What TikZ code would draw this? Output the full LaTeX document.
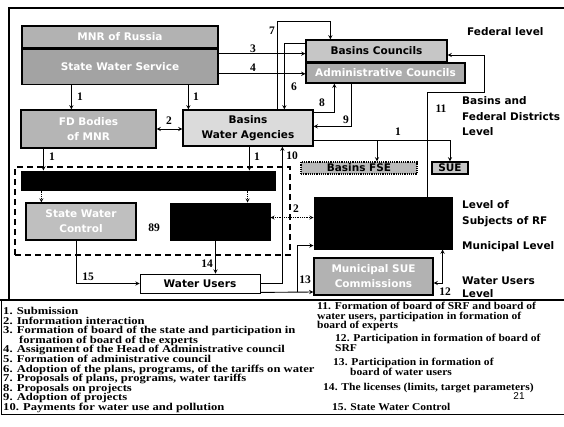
\documentclass[tikz,border=0pt]{standalone}
\usepackage{fontspec}
\setmainfont{Liberation Serif}
\newfontfamily\boxfont{DejaVu Sans}
\newfontfamily\legendfont[FakeStretch=1.2]{Liberation Serif}
\newfontfamily\legendfontb[FakeStretch=1.1]{Liberation Serif}
\newfontfamily\pagefont{Liberation Sans}
\usepackage{tikz}
\usetikzlibrary{arrows,positioning}
\lineskiplimit=-20pt

\begin{document}
\begin{tikzpicture}[
    x=1pt, y=-1pt,
    box/.style={rectangle, draw, line width=1.2pt, align=center, inner sep=1pt, font=\boxfont\bfseries\fontsize{10.5}{15}\selectfont},
    darkbox/.style={box, fill=gray!65, text=white},
    lightbox/.style={box, fill=gray!35, text=black},
    blackbox/.style={rectangle, draw, line width=1pt, fill=black},
    arrow/.style={line width=0.9pt,->,>=stealth},
    darrow/.style={line width=0.9pt,<->,>=stealth},
    dotarrow/.style={line width=0.8pt,densely dotted,->,>=stealth},
    num/.style={font=\bfseries\fontsize{11.5}{11.5}\selectfont, inner sep=0pt},
    lvl/.style={anchor=west, align=left, inner sep=0pt, font=\boxfont\bfseries\fontsize{10.5}{15.5}\selectfont},
    legend/.style={anchor=north west, align=left, inner sep=0pt, font=\legendfont\bfseries\fontsize{10.5}{9.6}\selectfont},
    legend2/.style={legend, font=\legendfontb\bfseries\fontsize{10.5}{9.5}\selectfont}
]
\useasboundingbox (0,0) rectangle (564,426);

% frame
\draw[line width=2pt] (564,8) -- (9,8) -- (9,300);
\draw[line width=2pt] (0,300) -- (564,300);
\draw[line width=1pt] (1,300) -- (1,414) -- (564,414);

% federal level
\node[darkbox, fill=gray!60, minimum width=196, minimum height=22] (mnr) at (120,37) {MNR of Russia};
\node[darkbox, fill=gray!72, minimum width=196, minimum height=35, below=0pt of mnr] (state_service) {State Water Service};
\node[lightbox, fill=gray!45, minimum width=141, minimum height=22] (basin_councils) at (376.5,51) {Basins Councils};
\node[darkbox, minimum width=159, minimum height=20] (admin_councils) at (385.5,73) {Administrative Councils};

% basins and federal districts level
\node[darkbox, fill=gray!58, minimum width=135, minimum height=38] (fd_bodies) at (88.5,129) {FD Bodies\\of MNR};
\node[lightbox, fill=gray!28, minimum width=130, minimum height=36] (basin_agencies) at (248,128) {Basins\\Water Agencies};
\node[lightbox, fill=gray!55, densely dotted, minimum width=116, minimum height=12] (basin_fse) at (359,168) {Basins FSE};
\node[lightbox, fill=gray!45, minimum width=36, minimum height=12] (sue) at (450,168) {SUE};

% level of subjects of RF
\node[rectangle, draw, line width=1.6pt, dash pattern=on 6pt off 4pt, minimum width=275, minimum height=88] (subj_level) at (152.5,211) {};
\node[blackbox, minimum width=254, minimum height=19] (subj_bar) at (148,180.5) {};
\node[darkbox, fill=gray!50, minimum width=110, minimum height=37] (state_control) at (81,221.5) {State Water\\Control};
\node[blackbox, minimum width=100, minimum height=37] (licensing) at (220,221.5) {};
\node[blackbox, minimum width=138, minimum height=52] (subj_rf) at (383,223) {};

% municipal and water users level
\node[darkbox, fill=gray!60, minimum width=119, minimum height=37] (municipal) at (373.5,276.5) {Municipal SUE\\Commissions};
\node[box, fill=white, line width=0.8pt, minimum width=120, minimum height=19] (water_users) at (200,283.5) {Water Users};

% level labels
\node[lvl] (lvl_fed) at (467,32) {Federal level};
\node[lvl] (lvl_basin) at (462,116.5) {Basins and\\Federal Districts\\Level};
\node[lvl, font=\boxfont\bfseries\fontsize{10.5}{16}\selectfont] (lvl_subj) at (462,214) {Level of\\Subjects of RF};
\node[lvl] (lvl_mun) at (462,247) {Municipal Level};
\node[lvl, font=\boxfont\bfseries\fontsize{10.5}{13}\selectfont] (lvl_users) at (462,287.5) {Water Users\\Level};

% connections
\draw[arrow] ([xshift=50]state_service.south west) -- ([xshift=51]fd_bodies.north west);
\draw[arrow] ([xshift=167]state_service.south west) -- ([xshift=6]basin_agencies.north west);
\draw[darrow] (fd_bodies.east) -- (fd_bodies.east -| basin_agencies.west);
\draw[arrow] ([yshift=-5]state_service.north east) -- ([yshift=-5]state_service.north east -| basin_councils.west);
\draw[arrow] ([yshift=11]state_service.south east) -- ([yshift=11]state_service.south east -| admin_councils.west);
\draw[arrow] ([xshift=95]basin_agencies.north west) |- ([xshift=25,yshift=18]basin_councils.north west) -- ([xshift=25]basin_councils.north west);
\draw[arrow] ([yshift=-4]basin_councils.north west) -| ([xshift=102]basin_agencies.north west);
\draw[arrow] ([yshift=-3]basin_agencies.north east) -| ([xshift=29]admin_councils.south west);
\draw[arrow] ([xshift=46]admin_councils.south west) |- ([yshift=-17]basin_agencies.north east);

\coordinate (bend11) at (484,92);
\draw[arrow] ([xshift=114]subj_rf.north west) |- (bend11) |- ([yshift=-4]basin_councils.east);

\coordinate (split1) at ([yshift=6]basin_agencies.south east);
\coordinate (fse_in) at ([xshift=18]basin_fse.north);
\draw[arrow] (split1) -| (sue.north);
\draw[arrow] (split1 -| fse_in) -- (fse_in);

\draw[arrow] (water_users.east) -| ([xshift=100]basin_agencies.south west);

\draw[arrow] ([xshift=23]fd_bodies.south west) -- ([xshift=23]fd_bodies.south west |- subj_bar.north);
\draw[arrow] ([xshift=67]basin_agencies.south west) -- ([xshift=67]basin_agencies.south west |- subj_bar.north);
\draw[dotarrow] ([xshift=16]state_control.north west |- subj_bar.south) -- ([xshift=16]state_control.north west);
\draw[dotarrow] ([xshift=78]licensing.north west |- subj_bar.south) -- ([xshift=78]licensing.north west);
\draw[dotarrow, <->] ([yshift=4]licensing.east) -- ([yshift=4]licensing.east -| subj_rf.west);

\draw[arrow] ([xshift=51]state_control.south west) |- (water_users.west);
\draw[arrow] ([xshift=46]licensing.south west) -- ([xshift=46]licensing.south west |- water_users.north);

\coordinate (split13) at (297,292);
\draw[arrow] ([yshift=1]water_users.south east) -- (split13 -| municipal.west);
\draw[arrow] (split13) |- ([yshift=4]subj_rf.south west);
\draw[darrow] ([yshift=-6.5]municipal.east) -| ([xshift=-10]subj_rf.south east);

% numbers
\node[num] (n1a) at (80,97) {1};
\node[num] (n1b) at (196,97) {1};
\node[num] (n2a) at (169,121) {2};
\node[num] (n3) at (253,49) {3};
\node[num] (n4) at (253,68) {4};
\node[num] (n7) at (272,31) {7};
\node[num] (n6) at (294,87) {6};
\node[num] (n8) at (322,103) {8};
\node[num] (n9) at (346,120) {9};
\node[num] (n11) at (441,109) {11};
\node[num] (n1c) at (398,132) {1};
\node[num] (n10) at (292,156) {10};
\node[num] (n1d) at (52,157) {1};
\node[num] (n1e) at (257,157) {1};
\node[num] (n2b) at (296,209) {2};
\node[num] (n89) at (154,228) {89};
\node[num] (n15) at (88,277) {15};
\node[num] (n14) at (207,264) {14};
\node[num] (n13) at (305,280) {13};
\node[num] (n12) at (445,292) {12};

% legend
\node[legend] (leg_left) at (3,307) {1. Submission\\2. Information interaction\\3. Formation of board of the state and participation in\\\hspace*{16pt}formation of board of the experts\\4. Assignment of the Head of Administrative council\\5. Formation of administrative council\\6. Adoption of the plans, programs, of the tariffs on water\\7. Proposals of plans, programs, water tariffs\\8. Proposals on projects\\9. Adoption of projects\\10. Payments for water use and pollution};
\node[legend2] (leg11) at (317,302) {11. Formation of board of SRF and board of\\water users, participation in formation of\\board of experts};
\node[legend2] (leg12) at (335,334) {12. Participation in formation of board of\\SRF};
\node[legend2] (leg13) at (333,358) {13. Participation in formation of\\\hspace*{17pt}board of water users};
\node[legend2] (leg14) at (323,383) {14. The licenses (limits, target parameters)};
\node[legend2] (leg15) at (332,403) {15. State Water Control};
\node[font=\pagefont\fontsize{10}{10}\selectfont, inner sep=0pt] (page_no) at (519,396) {21};

\end{tikzpicture}
\end{document}
